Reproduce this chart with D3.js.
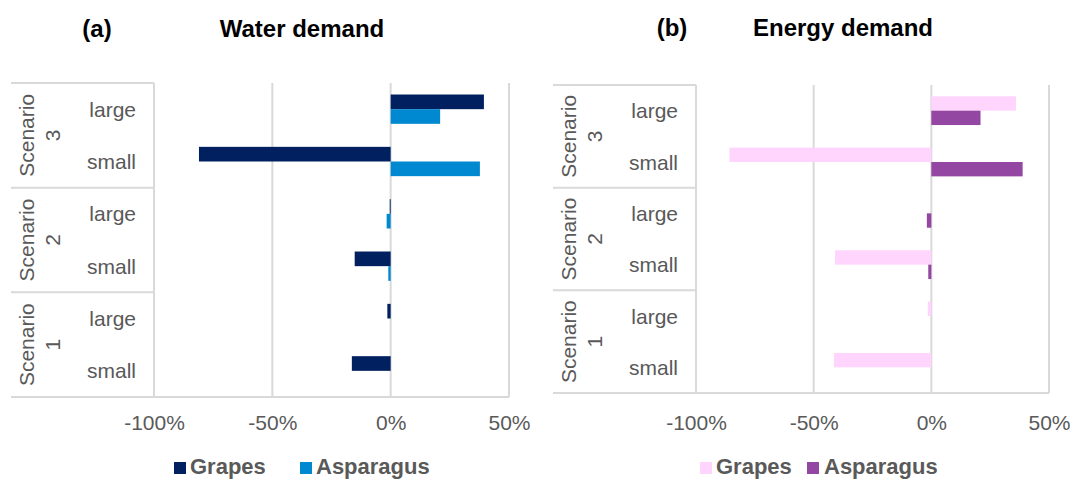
<!DOCTYPE html>
<html>
<head>
<meta charset="utf-8">
<script src="https://cdn.jsdelivr.net/npm/d3@7"></script>
<style>
  html, body { margin: 0; padding: 0; background: #ffffff; }
  svg { display: block; font-family: "Liberation Sans", Arial, sans-serif; }
</style>
</head>
<body>
<svg id="chart" width="1071" height="479"></svg>
<script>
// ---------------- DATA ----------------
const scenarios = ["Scenario 3", "Scenario 2", "Scenario 1"];
const scenarioLines = [["Scenario", "3"], ["Scenario", "2"], ["Scenario", "1"]];
const sizes = ["large", "small"];
const categories = ["S3 large", "S3 small", "S2 large", "S2 small", "S1 large", "S1 small"];
const categoryLabels = ["large", "small", "large", "small", "large", "small"];
const seriesNames = ["Grapes", "Asparagus"];

// percent change
const waterGrapes     = [39.4, -81.0, -0.4, -15.2, -1.4, -16.4];
const waterAsparagus  = [20.9,  37.7, -1.7,  -1.0,  0.0,   0.0];
const energyGrapes    = [36.0, -85.8,  0.0, -40.9, -1.5, -41.4];
const energyAsparagus = [20.9,  38.8, -1.9,  -1.3,  0.0,   0.0];

const tickValues = [-100, -50, 0, 50];
const tickLabels = ["-100%", "-50%", "0%", "50%"];
const xDomain = [-100, 50];

const panelTags = ["(a)", "(b)"];
const panelTitles = ["Water demand", "Energy demand"];

// ---------------- LAYOUT / STYLE ----------------
const panels = [
  {
    tag: panelTags[0], title: panelTitles[0],
    series: [waterGrapes, waterAsparagus],
    colors: ["#002060", "#0088d0"],
    tableLeft: 11, plotLeft: 154, plotRight: 509, top: 83, bottom: 397,
    tagX: 97, titleX: 302, titleY: 37,
    legend: [{sx: 174, tx: 190}, {sx: 300, tx: 316}]
  },
  {
    tag: panelTags[1], title: panelTitles[1],
    series: [energyGrapes, energyAsparagus],
    colors: ["#ffd4fd", "#9446a3"],
    tableLeft: 553, plotLeft: 696, plotRight: 1049, top: 85, bottom: 393,
    tagX: 672, titleX: 843, titleY: 36,
    legend: [{sx: 700, tx: 716}, {sx: 807, tx: 824}]
  }
];

const gridColor = "#d9d9d9";
const textColor = "#595959";

const svg = d3.select("#chart");

panels.forEach(p => {
  const g = svg.append("g");

  const x = d3.scaleLinear().domain(xDomain).range([p.plotLeft, p.plotRight]);
  const y = d3.scaleBand().domain(categories).range([p.top, p.bottom])
    .paddingInner(0.44).paddingOuter(0.22);
  const ySub = d3.scaleBand().domain(seriesNames).range([0, y.bandwidth()]);
  const yScen = d3.scaleBand().domain(scenarios).range([p.top, p.bottom]);

  // gridlines (vertical)
  g.append("g").selectAll("line").data(tickValues).join("line")
    .attr("x1", d => x(d)).attr("x2", d => x(d))
    .attr("y1", p.top).attr("y2", p.bottom)
    .attr("stroke", gridColor).attr("stroke-width", 2);

  // table lines
  const tbl = g.append("g").attr("stroke", gridColor).attr("stroke-width", 2);
  scenarios.forEach(s => {
    tbl.append("line")
      .attr("x1", p.tableLeft).attr("x2", p.plotLeft)
      .attr("y1", yScen(s)).attr("y2", yScen(s));
  });
  tbl.append("line")
    .attr("x1", p.tableLeft).attr("x2", p.plotRight)
    .attr("y1", p.bottom).attr("y2", p.bottom);

  // bars
  seriesNames.forEach((sn, si) => {
    g.append("g").selectAll("rect").data(categories).join("rect")
      .attr("x", (c, i) => Math.min(x(0), x(p.series[si][i])))
      .attr("width", (c, i) => Math.abs(x(p.series[si][i]) - x(0)))
      .attr("y", c => y(c) + ySub(sn))
      .attr("height", ySub.bandwidth())
      .attr("fill", p.colors[si]);
  });

  // category labels
  g.append("g").selectAll("text").data(categories).join("text")
    .attr("x", p.plotLeft - 18)
    .attr("y", c => y(c) + y.bandwidth() / 2)
    .attr("text-anchor", "end")
    .attr("dominant-baseline", "central")
    .attr("font-size", 21)
    .attr("fill", textColor)
    .text((c, i) => categoryLabels[i]);

  // scenario labels (rotated, two lines)
  scenarios.forEach((s, si) => {
    const cy = yScen(s) + yScen.bandwidth() / 2;
    const sg = g.append("g").attr("transform", `translate(${p.tableLeft},${cy}) rotate(-90)`);
    scenarioLines[si].forEach((line, li) => {
      sg.append("text")
        .attr("x", 0).attr("y", 15 + li * 26)
        .attr("text-anchor", "middle")
        .attr("dominant-baseline", "central")
        .attr("font-size", 21)
        .attr("fill", textColor)
        .text(line);
    });
  });

  // x axis tick labels
  const axis = d3.axisBottom(x).tickValues(tickValues)
    .tickFormat((d, i) => tickLabels[i]).tickSize(0).tickPadding(0);
  const ax = g.append("g").attr("transform", `translate(0,${430})`).call(axis);
  ax.select(".domain").remove();
  ax.selectAll("text")
    .attr("y", 0).attr("dy", 0)
    .attr("font-size", 21)
    .attr("font-family", "Liberation Sans, Arial, sans-serif")
    .attr("fill", textColor);

  // titles
  g.append("text").attr("x", p.tagX).attr("y", p.titleY)
    .attr("text-anchor", "middle").attr("font-size", 24).attr("font-weight", "bold")
    .attr("fill", "#000").text(p.tag);
  g.append("text").attr("x", p.titleX).attr("y", p.titleY)
    .attr("text-anchor", "middle").attr("font-size", 24).attr("font-weight", "bold")
    .attr("fill", "#000").text(p.title);

  // legend
  seriesNames.forEach((sn, si) => {
    const L = p.legend[si];
    g.append("rect").attr("x", L.sx).attr("y", 462).attr("width", 12).attr("height", 12)
      .attr("fill", p.colors[si]);
    g.append("text").attr("x", L.tx).attr("y", 474)
      .attr("font-size", 22).attr("font-weight", "bold")
      .attr("fill", textColor).text(sn);
  });
});
</script>
</body>
</html>
